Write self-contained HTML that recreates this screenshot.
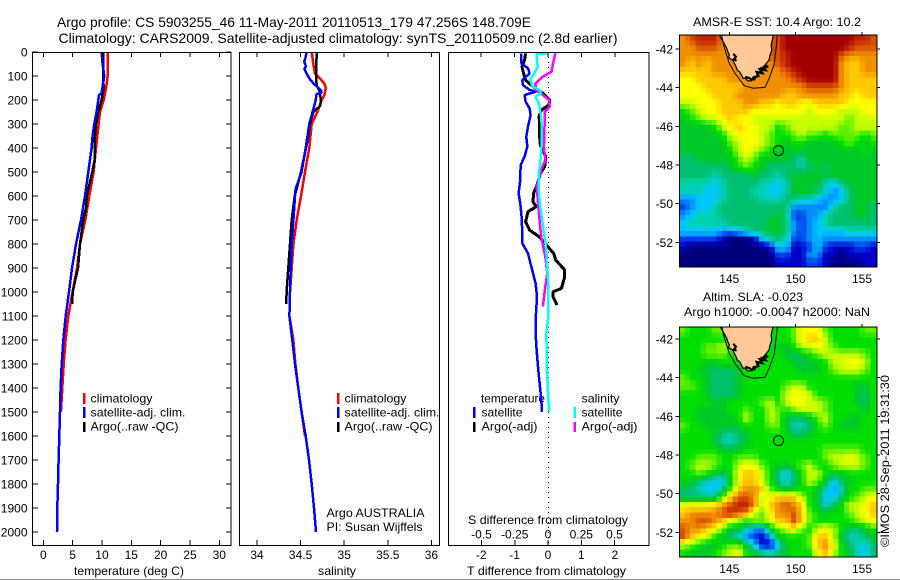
<!DOCTYPE html>
<html lang="en">
<head>
<meta charset="utf-8">
<title>Argo profile</title>
<style>
html,body{margin:0;padding:0;background:#fff;}
body{width:900px;height:580px;overflow:hidden;}
svg{display:block;font-family:"Liberation Sans",sans-serif;fill:#000;}
text{font-size:12px;}
.big{font-size:14px;}
</style>
</head>
<body>
<svg id="chart" xmlns="http://www.w3.org/2000/svg" width="900" height="580" viewBox="0 0 900 580">
<rect x="0" y="0" width="900" height="580" fill="#fff"/>
<rect x="0" y="579" width="900" height="1" fill="#888"/>
<text class="big" x="57" y="27" textLength="474" lengthAdjust="spacingAndGlyphs">Argo profile: CS 5903255_46 11-May-2011 20110513_179 47.256S 148.709E</text>
<text class="big" x="58.5" y="43" textLength="559" lengthAdjust="spacingAndGlyphs">Climatology: CARS2009. Satellite-adjusted climatology: synTS_20110509.nc (2.8d earlier)</text>
<text x="74" y="575" textLength="110" lengthAdjust="spacingAndGlyphs">temperature (deg C)</text>
<text x="318" y="575" textLength="38" lengthAdjust="spacingAndGlyphs">salinity</text>
<text x="467" y="575" textLength="159" lengthAdjust="spacingAndGlyphs">T difference from climatology</text>
<text x="468" y="524" textLength="160" lengthAdjust="spacingAndGlyphs">S difference from climatology</text>
<text x="326.5" y="517" textLength="98" lengthAdjust="spacingAndGlyphs">Argo AUSTRALIA</text>
<text x="326.5" y="531" textLength="96" lengthAdjust="spacingAndGlyphs">PI: Susan Wijffels</text>

<g>
<rect x="83" y="393" width="2.5" height="11" fill="#f00"/>
<text x="90.5" y="402.5" textLength="62" lengthAdjust="spacingAndGlyphs">climatology</text>
<rect x="83" y="407" width="2.5" height="11" fill="#00f"/>
<text x="90.5" y="416.5" textLength="95" lengthAdjust="spacingAndGlyphs">satellite-adj. clim.</text>
<rect x="83" y="422" width="2.5" height="10" fill="#000"/>
<text x="90.5" y="430.5" textLength="88" lengthAdjust="spacingAndGlyphs">Argo(..raw -QC)</text>
</g>
<g>
<rect x="337" y="393" width="2.5" height="11" fill="#f00"/>
<text x="344.5" y="402.5" textLength="62" lengthAdjust="spacingAndGlyphs">climatology</text>
<rect x="337" y="407" width="2.5" height="11" fill="#00f"/>
<text x="344.5" y="416.5" textLength="95" lengthAdjust="spacingAndGlyphs">satellite-adj. clim.</text>
<rect x="337" y="422" width="2.5" height="10" fill="#000"/>
<text x="344.5" y="430.5" textLength="88" lengthAdjust="spacingAndGlyphs">Argo(..raw -QC)</text>
</g>
<g>
<text x="481" y="402.5" textLength="64" lengthAdjust="spacingAndGlyphs">temperature</text>
<rect x="473" y="407" width="2.5" height="11" fill="#00f"/>
<text x="481.5" y="416.5" textLength="41" lengthAdjust="spacingAndGlyphs">satellite</text>
<rect x="473" y="422" width="2.5" height="10" fill="#000"/>
<text x="481.5" y="430.5" textLength="56" lengthAdjust="spacingAndGlyphs">Argo(-adj)</text>
<text x="581.5" y="402.5" textLength="38" lengthAdjust="spacingAndGlyphs">salinity</text>
<rect x="573.5" y="407" width="2.5" height="11" fill="#0ff"/>
<text x="581.5" y="416.5" textLength="41" lengthAdjust="spacingAndGlyphs">satellite</text>
<rect x="573.5" y="422" width="2.5" height="10" fill="#f0f"/>
<text x="581.5" y="430.5" textLength="56" lengthAdjust="spacingAndGlyphs">Argo(-adj)</text>
</g>

<text x="693" y="26" textLength="168" lengthAdjust="spacingAndGlyphs">AMSR-E SST: 10.4  Argo: 10.2</text>
<text x="703" y="301" textLength="100" lengthAdjust="spacingAndGlyphs">Altim. SLA: -0.023</text>
<text x="684" y="316" textLength="186" lengthAdjust="spacingAndGlyphs">Argo h1000: -0.0047 h2000: NaN</text>
<text transform="translate(889,547) rotate(-90)" textLength="172" lengthAdjust="spacingAndGlyphs">©IMOS 28-Sep-2011 19:31:30</text>
</svg>

<script>
// ---- Depth axis
const depthTicks = [0,100,200,300,400,500,600,700,800,900,1000,1100,1200,1300,1400,1500,1600,1700,1800,1900,2000];

// ---- Temperature panel
const tempTicks = [0,5,10,15,20,25,30];
const tempClimDepth = [0,100,150,200,250,300,400,500,600,700,800,900,1000,1100,1200,1300,1400,1500];
const tempClim = [10.97,10.97,10.7,10.3,9.66,9.43,8.98,8.58,7.84,7.16,6.25,5.74,5.0,4.26,3.8,3.47,3.24,3.0];
const tempSatDepth = [0,50,100,130,170,180,250,300,350,400,500,600,700,800,900,1000,1100,1200,1300,1400,1500,1600,1700,1800,1900,2000];
const tempSat = [9.94,10.1,10.4,10.2,9.94,9.49,9.09,8.69,8.41,8.24,7.67,7.1,6.42,5.57,4.89,4.38,3.81,3.41,3.13,2.95,2.84,2.73,2.61,2.5,2.39,2.33];
const tempArgoDepth = [0,100,150,200,250,300,350,400,450,500,600,650,700,800,900,1000,1050];
const tempArgo = [10.2,10.2,10.3,9.94,9.38,8.98,8.81,8.75,8.75,8.35,7.39,7.27,6.8,6.25,5.91,5.0,4.94];

// ---- Salinity panel
const salTicks = [34,34.5,35,35.5,36];
const salTickLabels = ['34','34.5','35','35.5','36'];
const salClimDepth = [0,50,90,110,130,150,180,200,250,300,400,500,600,700,800,900,1000,1100,1200,1300,1400,1500,1600];
const salClim = [34.627,34.646,34.665,34.722,34.768,34.791,34.772,34.742,34.692,34.627,34.6,34.55,34.505,34.455,34.417,34.398,34.378,34.371,34.417,34.44,34.474,34.512,34.55];
const salSatDepth = [0,20,40,60,70,90,110,130,160,170,175,200,250,300,400,500,570,600,700,800,900,1000,1100,1200,1300,1400,1500,1600,1700,1800,1900,2000];
const salSat = [34.57,34.558,34.543,34.562,34.543,34.57,34.6,34.646,34.734,34.742,34.684,34.673,34.638,34.6,34.558,34.512,34.443,34.436,34.417,34.398,34.386,34.378,34.371,34.405,34.436,34.474,34.512,34.558,34.596,34.627,34.654,34.677];
const salArgoDepth = [0,100,140,160,200,225,250,300,350,400,500,600,700,800,900,1000,1050];
const salArgo = [34.684,34.68,34.684,34.715,34.734,34.722,34.646,34.608,34.589,34.562,34.505,34.432,34.398,34.378,34.359,34.34,34.336];

// ---- Difference panel
const tDiffTicks = [-2,-1,0,1,2];
const tDiffTickLabels = ['-2','-1','0','1','2'];
const sDiffTicks = [-0.5,-0.25,0,0.25,0.5];
const sDiffTickLabels = ['-0.5','-0.25','0','0.25','0.5'];
const tDiffSatDepth = [6,47,68,89,117,138,158,165,179,207,235,263,311,353,394,436,471,533,589,631,700,797,839,894,964,1019,1117,1172,1241,1311,1380,1450,1499];
const tDiffSat = [-0.80,-0.80,-0.60,-0.55,-0.77,-0.75,-0.55,-0.35,-0.70,-0.67,-0.55,-0.52,-0.60,-0.65,-0.62,-0.70,-0.82,-0.83,-0.88,-0.83,-0.78,-0.77,-0.60,-0.50,-0.37,-0.33,-0.37,-0.37,-0.34,-0.30,-0.25,-0.20,-0.18];
const tDiffArgoDepth = [6,33,61,89,117,144,172,200,221,242,269,297,353,388,436,478,506,554,589,624,644,665,707,742,769,804,839,867,908,936,985,999,1019,1054];
const tDiffArgo = [-0.67,-0.70,-0.78,-0.73,-0.67,-0.45,-0.15,0.05,0.03,-0.2,-0.27,-0.25,-0.25,-0.23,-0.07,-0.1,-0.23,-0.33,-0.43,-0.45,-0.35,-0.6,-0.67,-0.55,-0.27,-0.05,0.17,0.23,0.5,0.5,0.4,0.15,0.15,0.27];
const sDiffArgoDepth = [6,47,82,103,131,158,179,200,228,249,311,394,450,492,561,617,700,769,853,922,978,1061];
const sDiffArgo = [0.056,0.038,0.026,-0.038,-0.095,-0.09,-0.038,0.008,0.013,-0.026,-0.026,-0.031,-0.02,-0.051,-0.085,-0.077,-0.064,-0.051,-0.02,-0.005,-0.02,-0.038];
const sDiffSatDepth = [6,8,33,61,89,117,144,158,172,186,214,269,325,394,464,506,575,644,742,825,881,964,1117,1172,1241,1311,1380,1450,1499];
const sDiffSat = [0,-0.085,-0.085,-0.077,-0.103,-0.133,-0.115,-0.064,-0.051,-0.095,-0.069,-0.051,-0.046,-0.049,-0.059,-0.069,-0.069,-0.059,-0.033,-0.013,-0.008,0.003,0,-0.013,-0.01,-0.01,-0.003,0.003,0.008];

// ---- Maps
const lonTicks = [145,150,155];
const latTicks = [-42,-44,-46,-48,-50,-52];
const argoLon = [148.709];
const argoLat = [-47.256];
const coastLon = [144.25,144.6,144.8,144.92,145.0,144.95,145.1,145.25,145.5,145.6,145.8,146.05,146.2,146.4,146.68,146.8,146.9,147.1,147.0,147.3,147.4,147.7,147.8,147.6,148.0,148.05,148.2,148.15,148.32];
const coastLat = [-41.28,-41.7,-41.95,-42.19,-42.3,-42.45,-42.5,-42.57,-42.9,-43.09,-43.2,-43.52,-43.5,-43.65,-43.64,-43.45,-43.6,-43.34,-43.15,-43.2,-42.95,-43.09,-42.85,-42.9,-42.57,-42.35,-42.05,-41.8,-41.28];
const roughWestLon = [145.3,145.5,145.35,145.55];
const roughWestLat = [-42.25,-42.4,-42.55,-42.6];
const roughEastLon = [147.95,147.6,147.75,147.3,147.5,147.1,147.2,146.9,146.7,146.5,146.2];
const roughEastLat = [-42.9,-42.95,-43.1,-43.05,-43.25,-43.2,-43.4,-43.45,-43.6,-43.5,-43.45];
const isobathLon = [144.42,144.6,145,145.43,146.13,146.8,147.69,148.0,148.37,148.57,148.62];
const isobathLat = [-41.28,-41.88,-42.74,-43.26,-43.9,-44.03,-43.98,-43.52,-42.83,-41.7,-41.28];
const levelColors = ['#00007f','#0000c8','#0040e8','#0090ff','#00c8ff','#00d0b0','#00c070','#00c828','#00e000','#60f000','#c8ff00','#ffff00','#ffc800','#f09000','#d85000','#c02000','#a00000'];

const sstLevels = [
[13,14,15,15,15,13,13,14,14,14,14,14,14,16,16,16,16,16,16,16,16,16,15,15,14],
[13,13,14,14,14,13,13,13,14,14,14,14,14,16,16,16,16,16,16,16,16,15,14,14,14],
[13,13,13,13,13,13,13,13,14,14,14,14,14,15,16,16,16,16,16,16,14,13,13,13,13],
[13,12,13,12,13,13,13,13,13,13,13,13,14,15,16,16,16,16,16,16,13,12,12,13,13],
[12,12,12,12,13,13,13,13,13,13,13,13,13,14,15,16,16,16,16,16,13,12,12,13,13],
[11,11,12,12,12,12,13,13,13,13,13,13,13,13,14,15,16,16,16,16,13,12,12,12,12],
[11,11,11,12,12,12,12,12,13,13,13,13,13,13,13,13,14,14,14,14,13,12,12,12,12],
[11,11,11,11,12,12,12,13,13,13,13,13,13,12,12,13,13,13,13,13,12,12,11,12,12],
[10,10,11,11,11,12,12,12,13,13,12,12,11,12,12,11,11,12,12,12,12,11,11,11,11],
[8,9,10,11,11,12,12,12,12,11,11,11,11,11,11,11,10,11,11,11,10,10,10,11,11],
[7,8,9,10,10,11,12,11,11,10,10,10,10,10,10,10,10,10,10,10,10,9,10,10,10],
[7,7,7,7,8,10,11,12,11,11,10,10,8,9,10,10,10,10,10,10,9,9,10,10,10],
[7,7,7,7,7,8,10,11,11,11,10,9,8,8,9,10,9,9,8,9,9,9,9,8,9],
[7,7,7,7,7,7,9,10,11,11,10,9,8,7,8,8,7,7,7,7,8,9,8,7,8],
[7,7,7,7,7,7,8,10,11,10,9,8,7,7,7,7,7,7,7,7,7,7,7,8,7],
[6,6,7,7,7,7,7,9,10,9,7,7,7,7,6,5,7,7,7,7,7,7,7,7,7],
[6,6,6,6,6,6,7,8,9,8,7,6,6,6,6,5,6,7,6,7,7,7,7,7,7],
[6,6,6,6,5,6,6,6,6,7,6,6,5,6,7,7,7,7,7,7,7,7,7,7,7],
[5,5,5,5,4,5,6,6,6,6,5,5,4,5,7,7,7,7,5,4,6,7,7,7,7],
[5,5,5,4,4,5,6,6,6,5,5,4,4,5,7,7,7,6,5,3,4,6,7,7,7],
[3,3,4,4,4,5,6,6,6,6,5,5,5,6,6,5,5,4,3,3,4,6,7,7,7],
[2,3,4,4,5,6,6,6,6,6,6,6,6,6,3,3,3,3,3,5,6,6,7,7,6],
[3,4,5,5,5,6,6,6,6,6,6,6,7,6,2,2,3,3,5,6,6,6,7,7,6],
[4,5,5,5,5,5,6,6,6,6,6,7,7,6,3,2,3,4,5,6,6,6,6,6,6],
[4,4,4,4,4,3,3,4,5,6,6,7,7,6,3,2,3,4,4,4,4,5,5,5,5],
[2,2,2,2,2,1,0,0,0,1,4,5,6,5,2,2,3,4,3,3,3,3,3,3,3],
[1,0,0,0,0,0,0,0,0,0,0,1,4,4,1,1,2,4,2,1,1,1,2,2,1],
[0,0,0,0,0,0,0,0,0,0,0,0,2,2,1,1,3,3,1,1,0,1,1,1,1],
[0,0,0,0,0,0,0,0,0,0,0,0,1,1,1,1,2,2,1,0,0,0,0,1,1]
];

const slaLevels = [
[9,8,8,8,9,9,8,8,8,8,8,8,8,8,9,11,11,11,9,8,8,8,8,9,9],
[8,8,8,8,8,8,8,8,8,8,8,8,8,8,9,11,12,12,10,8,8,8,8,8,8],
[8,8,8,9,9,10,9,8,8,8,8,8,7,7,8,10,10,11,10,9,8,8,8,8,8],
[8,8,8,9,9,9,8,8,8,8,8,8,8,7,6,7,8,9,10,10,10,10,10,9,8],
[8,8,8,7,7,8,8,8,8,8,8,8,8,8,7,6,7,7,8,10,10,11,11,10,8],
[8,8,7,7,6,6,6,7,8,8,8,8,8,8,8,7,7,7,8,9,10,10,10,9,8],
[9,8,8,7,6,6,6,7,8,8,8,8,8,8,8,8,8,8,8,8,8,8,8,8,8],
[9,9,8,7,6,6,6,7,8,8,8,8,8,9,10,10,8,8,8,8,8,8,7,7,8],
[8,8,8,7,6,6,6,7,8,8,8,8,8,10,11,11,10,8,8,8,8,8,7,6,8],
[8,8,8,8,7,7,8,8,8,8,9,10,8,10,11,11,10,10,9,8,8,8,7,6,8],
[8,8,7,7,7,7,8,8,9,8,8,10,9,8,9,10,10,10,9,8,8,8,8,7,8],
[8,8,7,7,7,7,7,8,10,8,8,10,9,7,6,6,7,9,10,8,8,7,7,8,8],
[9,8,8,7,7,7,7,7,8,8,8,9,9,7,5,5,6,8,9,8,7,7,7,8,8],
[8,8,8,8,7,6,5,6,7,8,8,8,8,8,6,6,7,8,8,8,8,8,8,8,8],
[8,8,8,8,7,5,5,6,7,8,8,8,8,8,8,8,8,8,8,8,8,8,8,8,8],
[8,8,8,8,8,7,7,7,8,8,8,8,8,8,8,8,8,8,9,9,9,9,9,8,8],
[8,8,9,9,9,8,8,9,9,9,8,8,8,8,8,8,8,8,9,10,10,11,10,9,8],
[8,9,10,10,9,8,8,10,11,11,9,8,7,7,8,9,10,8,8,9,10,10,10,9,8],
[8,8,9,8,7,6,8,11,12,12,10,8,6,4,6,8,10,10,8,7,7,8,8,8,8],
[8,7,6,5,4,4,7,11,12,12,10,8,6,4,6,8,10,9,7,4,6,7,8,8,8],
[6,6,5,4,4,6,9,12,13,13,12,9,8,7,8,8,8,7,5,3,5,8,8,9,9],
[6,6,6,6,6,9,12,14,14,13,10,11,12,12,12,10,8,7,4,4,6,8,9,10,11],
[11,11,11,11,12,13,14,15,15,13,10,12,13,14,13,12,8,7,5,6,8,10,10,11,12],
[12,13,13,13,13,14,15,14,13,10,9,11,13,13,14,12,9,8,7,8,8,9,10,11,12],
[13,13,14,14,13,12,10,9,8,9,9,10,12,12,14,12,9,8,8,8,8,8,9,10,11],
[14,13,13,12,11,9,7,7,5,3,3,7,9,10,11,9,8,10,11,10,8,6,6,7,8],
[14,12,11,10,8,7,6,5,3,2,1,3,7,8,8,8,9,12,12,10,7,5,5,6,7],
[10,9,8,7,7,8,9,9,7,4,1,1,4,7,8,8,9,12,13,11,8,6,5,4,6],
[8,7,7,7,8,9,10,11,8,7,6,5,6,7,8,8,8,11,12,10,8,7,5,4,6]
];

// ---- Axis functions
const NS = 'http://www.w3.org/2000/svg';
const svg = document.getElementById('chart');
const PTOP = 52, PBOT = 545;
const yDepth = d => PTOP + d * 0.24;
const xTemp = v => 43.3 + v * 5.867;
const xSal = v => 257 + (v - 34) * 87.2;
const xTDiff = v => 548 + v * 33.4;
const xSDiff = v => 548 + v * 133;
const xLon = v => 729.3 + (v - 145) * 13.27;
const yLatSst = v => 49 + (-42 - v) * 19.33;
const yLatSla = v => 339 + (-42 - v) * 19.33;

function mk(tag, attrs, parent) {
  const el = document.createElementNS(NS, tag);
  for (const k in attrs) el.setAttribute(k, attrs[k]);
  (parent || svg).appendChild(el);
  return el;
}
function tickLine(x1, y1, x2, y2, parent) {
  const el = mk('line', {x1: x1, y1: y1, x2: x2, y2: y2, stroke: '#000', 'stroke-width': 1, 'shape-rendering': 'crispEdges'}, parent);
  
  
}
function label(str, x, y, anchor, parent) {
  const el = mk('text', {x: x, y: y, 'text-anchor': anchor}, parent);
  el.textContent = str;
  
  
}
function profile(name, xs, depths, xf, color, width, parent) {
  const pts = xs.map((v, i) => xf(v).toFixed(1) + ',' + yDepth(depths[i]).toFixed(1)).join(' ');
  const el = mk('polyline', {points: pts, fill: 'none', stroke: color, 'stroke-width': width, 'shape-rendering': 'crispEdges', 'stroke-linejoin': 'bevel'}, parent);
  
  
}
function frame(name, x, y, w, h, parent) {
  const el = mk('rect', {x: x, y: y, width: w, height: h, fill: 'none', stroke: '#000', 'stroke-width': 1, 'shape-rendering': 'crispEdges'}, parent);
  
  
}

// ---- Panel 1
const p1 = mk('g', {});


profile('temperature-climatology-line', tempClim, tempClimDepth, xTemp, '#f00', 2.5, p1);
profile('temperature-argo-line', tempArgo, tempArgoDepth, xTemp, '#000', 2.5, p1);
profile('temperature-satellite-line', tempSat, tempSatDepth, xTemp, '#00f', 2.5, p1);
frame('temperature-plot-frame', 32.5, PTOP + 0.5, 198.5, PBOT - PTOP, p1);
depthTicks.forEach(d => {
  tickLine(32.5, yDepth(d), 38, yDepth(d), p1);
  tickLine(226, yDepth(d), 231, yDepth(d), p1);
  label(String(d), 27.5, yDepth(d) + 4.5, 'end', p1);
});
tempTicks.forEach(v => {
  tickLine(xTemp(v), PTOP, xTemp(v), PTOP + 5, p1);
  tickLine(xTemp(v), PBOT - 5, xTemp(v), PBOT, p1);
  label(String(v), xTemp(v), 559, 'middle', p1);
});

// ---- Panel 2
const p2 = mk('g', {});


profile('salinity-climatology-line', salClim, salClimDepth, xSal, '#f00', 2.5, p2);
profile('salinity-argo-line', salArgo, salArgoDepth, xSal, '#000', 2.5, p2);
profile('salinity-satellite-line', salSat, salSatDepth, xSal, '#00f', 2.5, p2);
frame('salinity-plot-frame', 239.5, PTOP + 0.5, 200, PBOT - PTOP, p2);
salTicks.forEach((v, i) => {
  tickLine(xSal(v), PTOP, xSal(v), PTOP + 5, p2);
  tickLine(xSal(v), PBOT - 5, xSal(v), PBOT, p2);
  label(salTickLabels[i], xSal(v), 559, 'middle', p2);
});

// ---- Panel 3
const p3 = mk('g', {});


const zeroLine = mk('line', {x1: 548.5, y1: PTOP, x2: 548.5, y2: PBOT, stroke: '#000', 'stroke-width': 1, 'stroke-dasharray': '1 4', 'shape-rendering': 'crispEdges'}, p3);


profile('t-diff-argo-line', tDiffArgo, tDiffArgoDepth, xTDiff, '#000', 3, p3);
profile('t-diff-satellite-line', tDiffSat, tDiffSatDepth, xTDiff, '#00f', 2.5, p3);
profile('s-diff-argo-line', sDiffArgo, sDiffArgoDepth, xSDiff, '#f0f', 2.5, p3);
profile('s-diff-satellite-line', sDiffSat, sDiffSatDepth, xSDiff, '#0ff', 2.5, p3);
frame('difference-plot-frame', 448.5, PTOP + 0.5, 200.5, PBOT - PTOP, p3);
tDiffTicks.forEach((v, i) => {
  tickLine(xTDiff(v), PTOP, xTDiff(v), PTOP + 5, p3);
  label(tDiffTickLabels[i], xTDiff(v), 559, 'middle', p3);
});
sDiffTicks.forEach((v, i) => {
  tickLine(xSDiff(v), PBOT - 5, xSDiff(v), PBOT, p3);
  label(sDiffTickLabels[i], xSDiff(v), 538.5, 'middle', p3);
});

// ---- Maps
function levelColor(level) {
  const i = Math.min(Math.max(Math.floor(level), 0), levelColors.length - 2);
  const t = Math.min(Math.max(level - i, 0), 1);
  const a = levelColors[i], b = levelColors[i + 1];
  const ch = p => {
    const u = parseInt(a.substr(p, 2), 16), v = parseInt(b.substr(p, 2), 16);
    return Math.round(u + (v - u) * t);
  };
  return 'rgb(' + ch(1) + ',' + ch(3) + ',' + ch(5) + ')';
}
function sampleLevel(levels, r, c) {
  const nr = levels.length, nc = levels[0].length;
  const rr = Math.min(Math.max(r, 0), nr - 1), cc = Math.min(Math.max(c, 0), nc - 1);
  const r0 = Math.floor(rr), c0 = Math.floor(cc);
  const r1 = Math.min(r0 + 1, nr - 1), c1 = Math.min(c0 + 1, nc - 1);
  const fr = rr - r0, fc = cc - c0;
  return (levels[r0][c0] * (1 - fc) + levels[r0][c1] * fc) * (1 - fr) +
         (levels[r1][c0] * (1 - fc) + levels[r1][c1] * fc) * fr;
}
function polyPoints(lons, lats, yLat) {
  return lons.map((v, i) => xLon(v).toFixed(1) + ',' + yLat(lats[i]).toFixed(1)).join(' ');
}
function drawMap(groupName, levels, top, height, yLat, labelY) {
  const g = mk('g', {});
  
  
  const left = 679.5, width = 197.5;
  const clip = mk('clipPath', {id: groupName + '-clip'}, g);
  mk('rect', {x: left, y: top, width: width, height: height}, clip);
  const nr = levels.length, nc = levels[0].length;
  const px = 5.3;
  const cols = Math.ceil(width / px), rows = Math.ceil(height / px);
  for (let j = 0; j < rows; j++) {
    for (let i = 0; i < cols; i++) {
      const x = i * px, y = j * px;
      const r = (y + px / 2) / height * nr - 0.5;
      const c = (x + px / 2) / width * nc - 0.5;
      const w = Math.min(px + 0.6, width - x), h = Math.min(px + 0.6, height - y);
      const cell = mk('rect', {x: (left + x).toFixed(2), y: (top + y).toFixed(2), width: w.toFixed(2), height: h.toFixed(2), fill: levelColor(sampleLevel(levels, r, c)), 'shape-rendering': 'crispEdges'}, g);
      
      
    }
  }
  const overlay = mk('g', {'clip-path': 'url(#' + groupName + '-clip)'}, g);
  
  
  const land = mk('polygon', {points: polyPoints(coastLon, coastLat, yLat), fill: '#ffc896', stroke: '#000', 'stroke-width': 1.2}, overlay);
  
  
  const roughW = mk('polyline', {points: polyPoints(roughWestLon, roughWestLat, yLat), fill: 'none', stroke: '#000', 'stroke-width': 2.2}, overlay);
  
  
  const roughE = mk('polyline', {points: polyPoints(roughEastLon, roughEastLat, yLat), fill: 'none', stroke: '#000', 'stroke-width': 2.2}, overlay);
  
  
  const iso = mk('polyline', {points: polyPoints(isobathLon, isobathLat, yLat), fill: 'none', stroke: '#000', 'stroke-width': 1}, overlay);
  
  
  const marker = mk('circle', {cx: xLon(argoLon[0]), cy: yLat(argoLat[0]), r: 5, fill: 'none', stroke: '#000', 'stroke-width': 1}, g);
  
  
  frame(groupName + '-frame', left, top, width, height, g);
  lonTicks.forEach(v => {
    tickLine(xLon(v), top - 3, xLon(v), top, g);
    label(String(v), xLon(v), labelY, 'middle', g);
  });
  latTicks.forEach(v => {
    tickLine(left - 4, yLat(v), left, yLat(v), g);
    tickLine(left + width, yLat(v), left + width + 3, yLat(v), g);
    label(String(v), 673, yLat(v) + 4.5, 'end', g);
  });
}
drawMap('sst-map', sstLevels, 35, 232, yLatSst, 283);
drawMap('sla-map', slaLevels, 327, 230, yLatSla, 573);
</script>
</body>
</html>
